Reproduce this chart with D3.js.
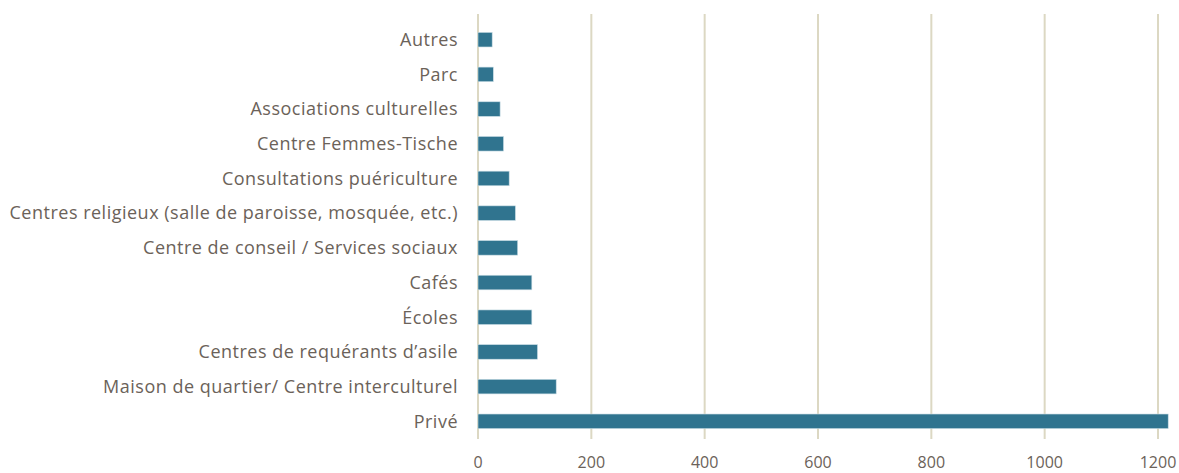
<!DOCTYPE html>
<html>
<head>
<meta charset="utf-8">
<script src="https://cdn.jsdelivr.net/npm/d3@7"></script>
<style>
  body { margin: 0; background: #fff; }
  .lbl { font-family: "Open Sans", sans-serif; fill: #6b6259; }
</style>
</head>
<body>
<div class="chart"></div>
<script>
var categories = ["Autres", "Parc", "Associations culturelles", "Centre Femmes-Tische",
  "Consultations puériculture", "Centres religieux (salle de paroisse, mosquée, etc.)",
  "Centre de conseil / Services sociaux", "Cafés", "Écoles",
  "Centres de requérants d’asile", "Maison de quartier/ Centre interculturel", "Privé"];
var values = [25, 27, 39, 45, 55, 66, 70, 95, 95, 105, 138, 1218];
var ticks = [0, 200, 400, 600, 800, 1000, 1200];

var width = 1179, height = 473;
var margin = {top: 22, right: 21, bottom: 35, left: 478};

var svg = d3.select(".chart")
  .append("svg")
  .attr("width", width)
  .attr("height", height);

var x = d3.scaleLinear().domain([0, 1200]).range([margin.left, 1158]);
var y = d3.scaleBand().domain(categories)
  .range([margin.top, 439])
  .paddingInner(0.58).paddingOuter(0.3);

// gridlines
svg.append("g")
  .selectAll("line")
  .data(ticks)
  .enter().append("line")
  .attr("x1", function(d){ return x(d); })
  .attr("x2", function(d){ return x(d); })
  .attr("y1", 14)
  .attr("y2", 439)
  .attr("stroke", "#dcd8c3")
  .attr("stroke-width", 2);

// bars
svg.append("g")
  .selectAll("rect")
  .data(values)
  .enter().append("rect")
  .attr("x", x(0))
  .attr("y", function(d, i){ return y(categories[i]); })
  .attr("width", function(d){ return x(d) - x(0); })
  .attr("height", y.bandwidth())
  .attr("fill", "#30748f")
  .attr("stroke", "#c9dce4")
  .attr("stroke-width", 0.6);

// category labels
svg.append("g")
  .selectAll("text")
  .data(categories)
  .enter().append("text")
  .attr("class", "lbl")
  .attr("x", margin.left - 20)
  .attr("y", function(d){ return y(d) + y.bandwidth() / 2; })
  .attr("dy", "0.35em")
  .attr("text-anchor", "end")
  .style("font-size", "18px")
  .style("letter-spacing", "0.5px")
  .text(function(d){ return d; });

// x tick labels
svg.append("g")
  .selectAll("text")
  .data(ticks)
  .enter().append("text")
  .attr("class", "lbl")
  .attr("x", function(d){ return x(d); })
  .attr("y", 468)
  .attr("text-anchor", "middle")
  .style("font-size", "16px")
  .text(function(d){ return d; });
</script>
</body>
</html>
